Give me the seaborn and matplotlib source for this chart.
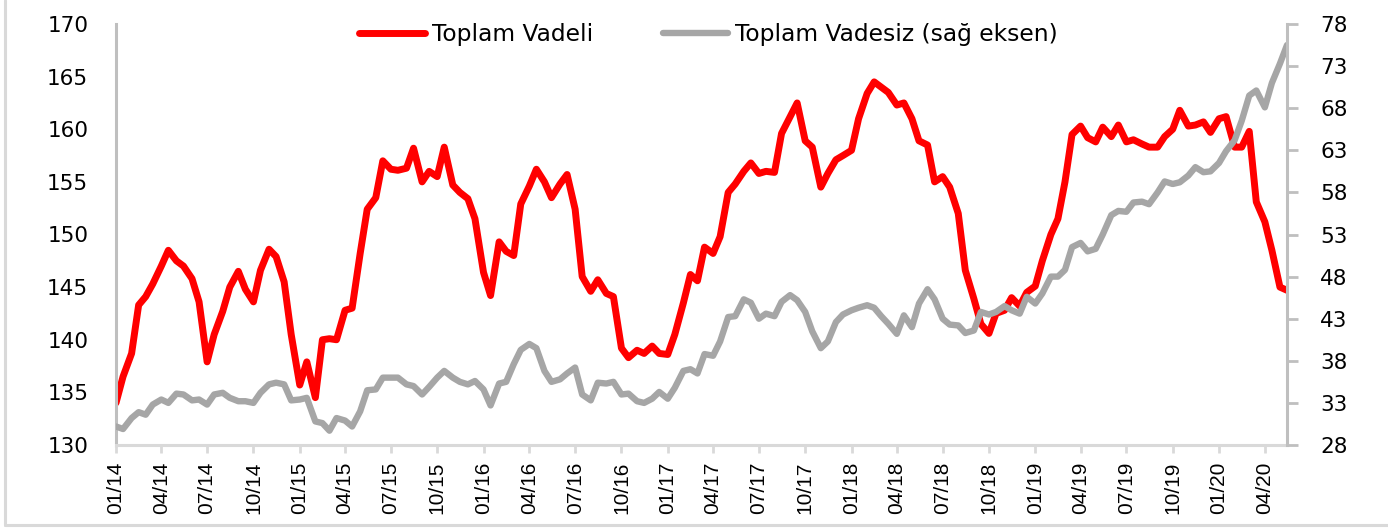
import pandas as pd
import matplotlib
matplotlib.use("Agg")
import matplotlib.pyplot as plt
import matplotlib.dates as mdates
from matplotlib.lines import Line2D
import seaborn as sns

# semi-monthly observations, Jan 2014 - mid May 2020
dates = pd.date_range("2014-01-01", periods=154, freq="SMS")

vadeli = [
    134.0, 136.5, 138.7, 143.3, 144.1, 145.3, 147.0, 148.5, 147.5, 147.0,
    145.8, 143.6, 137.9, 140.5, 142.7, 145.0, 146.5, 144.8, 143.6, 146.6,
    148.6, 147.9, 145.5, 140.5, 135.7, 137.9, 134.5, 140.0, 140.1, 140.0,
    142.8, 143.0, 148.2, 152.4, 153.5, 157.0, 156.2, 156.1, 156.3, 158.2,
    155.0, 156.0, 155.5, 158.3, 154.7, 154.0, 153.4, 151.5, 146.4, 144.2,
    149.3, 148.4, 148.0, 152.9, 154.6, 156.2, 155.0, 153.5, 154.8, 155.7,
    152.4, 146.0, 144.6, 145.7, 144.4, 144.1, 139.2, 138.3, 139.0, 138.7,
    139.4, 138.7, 138.6, 140.5, 143.5, 146.2, 145.6, 148.8, 148.2, 149.8,
    154.0, 154.8, 156.0, 156.8, 155.8, 156.0, 155.9, 159.6, 161.2, 162.5,
    158.9, 158.3, 154.5, 155.8, 157.1, 157.5, 158.0, 161.0, 163.4, 164.5,
    164.0, 163.5, 162.3, 162.5, 161.0, 158.9, 158.5, 155.0, 155.5, 154.5,
    152.0, 146.6, 143.9, 141.5, 140.6, 142.5, 142.8, 144.0, 143.2, 144.5,
    145.1, 147.5, 150.0, 151.5, 155.0, 159.5, 160.3, 159.2, 158.8, 160.2,
    159.3, 160.4, 158.8, 159.0, 158.6, 158.3, 158.3, 159.3, 160.0, 161.8,
    160.3, 160.4, 160.7, 159.7, 161.0, 161.2, 158.3, 158.3, 159.8, 153.1,
    151.2, 148.5, 145.0, 144.7,
]

vadesiz = [
    30.2, 29.9, 31.2, 31.9, 31.6, 32.8, 33.4, 33.0, 34.1, 34.0,
    33.3, 33.4, 32.8, 34.0, 34.2, 33.6, 33.2, 33.2, 33.0, 34.2,
    35.2, 35.4, 35.2, 33.3, 33.4, 33.6, 30.8, 30.6, 29.7, 31.2,
    30.9, 30.2, 32.0, 34.5, 34.6, 36.0, 36.0, 36.0, 35.2, 35.0,
    34.0, 34.9, 36.0, 36.8, 36.0, 35.5, 35.2, 35.6, 34.6, 32.7,
    35.3, 35.5, 37.6, 39.3, 40.0, 39.5, 36.8, 35.5, 35.8, 36.5,
    37.2, 34.0, 33.3, 35.4, 35.3, 35.5, 34.0, 34.1, 33.2, 33.0,
    33.5, 34.3, 33.5, 34.8, 36.8, 37.0, 36.5, 38.8, 38.6, 40.3,
    43.2, 43.3, 45.3, 44.9, 43.0, 43.6, 43.3, 45.0, 45.8, 45.2,
    43.8, 41.5, 39.5, 40.3, 42.6, 43.5, 44.0, 44.3, 44.6, 44.3,
    43.3, 42.4, 41.2, 43.4, 42.0, 44.8, 46.5, 45.3, 43.0, 42.3,
    42.2, 41.3, 41.6, 43.8, 43.5, 43.8, 44.5, 44.0, 43.6, 45.6,
    44.8, 46.0, 48.0, 48.0, 48.8, 51.5, 52.0, 51.0, 51.3, 53.0,
    55.3, 55.8, 55.7, 56.8, 56.9, 56.6, 58.0, 59.3, 59.0, 59.2,
    60.0, 61.0, 60.4, 60.5, 61.5, 62.9, 64.2, 66.5, 69.5, 70.1,
    68.1, 71.0, 73.3, 75.5,
]

df = pd.DataFrame({"date": dates, "vadeli": vadeli, "vadesiz": vadesiz})

RED = "#FF0000"
GRAY = "#A6A6A6"

sns.set_style("white")
plt.rcParams["font.family"] = ["DejaVu Sans"]

fig = plt.figure(figsize=(13.88, 5.30), dpi=100)
ax = fig.add_axes([116 / 1388, 1 - 445 / 530, (1287 - 116) / 1388, (445 - 24) / 530])
ax2 = ax.twinx()

sns.lineplot(data=df, x="date", y="vadeli", ax=ax, color=RED, linewidth=5,
             label="Toplam Vadeli", legend=False)
sns.lineplot(data=df, x="date", y="vadesiz", ax=ax2, color=GRAY, linewidth=4.6,
             label="Toplam Vadesiz (sağ eksen)", legend=False)

ax.set_xlim(dates[0], dates[-1])
ax.set_ylim(130, 170)
ax.set_yticks(range(130, 171, 5))
ax2.set_ylim(28, 78)
ax2.set_yticks(range(28, 79, 5))

ax.xaxis.set_major_locator(mdates.MonthLocator(bymonth=[1, 4, 7, 10]))
ax.xaxis.set_major_formatter(mdates.DateFormatter("%m/%y"))
for lbl in ax.get_xticklabels():
    lbl.set_rotation(90)
    lbl.set_family("Liberation Sans")
ax.tick_params(axis="x", labelsize=15, length=6, width=2, color="#D9D9D9",
               labelcolor="black", pad=6, direction="out", bottom=True)
ax.tick_params(axis="y", labelsize=15.5, length=0, pad=20, labelcolor="black")
ax2.tick_params(axis="y", labelsize=15.5, length=8, width=2, color="#BFBFBF",
                labelcolor="black", pad=16, direction="out", right=True)

ax.set_xlabel("")
ax.set_ylabel("")
ax2.set_ylabel("")

for a in (ax, ax2):
    a.spines["top"].set_visible(False)
    a.grid(False)
ax.spines["left"].set_color("#BFBFBF")
ax.spines["left"].set_linewidth(2.2)
ax.spines["bottom"].set_color("#D9D9D9")
ax.spines["bottom"].set_linewidth(2.2)
ax.spines["right"].set_visible(False)
ax2.spines["left"].set_visible(False)
ax2.spines["bottom"].set_visible(False)
ax2.spines["right"].set_color("#BFBFBF")
ax2.spines["right"].set_linewidth(2.2)

handles = ax.get_lines()[:1] + ax2.get_lines()[:1]
leg = ax2.legend(handles=handles, labels=["Toplam Vadeli", "Toplam Vadesiz (sağ eksen)"],
                 loc="center", bbox_to_anchor=(0.506, 0.974), ncol=2, frameon=False,
                 fontsize=16.8, handlelength=2.8, handletextpad=0.3, columnspacing=3.0)
for t in leg.get_texts():
    t.set_color("black")

# outer chart frame
fig.add_artist(Line2D([5 / 1388, 5 / 1388], [1 - 525 / 530, 1.0], color="#D9D9D9", lw=2.2))
fig.add_artist(Line2D([5 / 1388, 1.0], [1 - 525 / 530, 1 - 525 / 530], color="#D9D9D9", lw=2.2))

fig.savefig("out.png", dpi=100)
